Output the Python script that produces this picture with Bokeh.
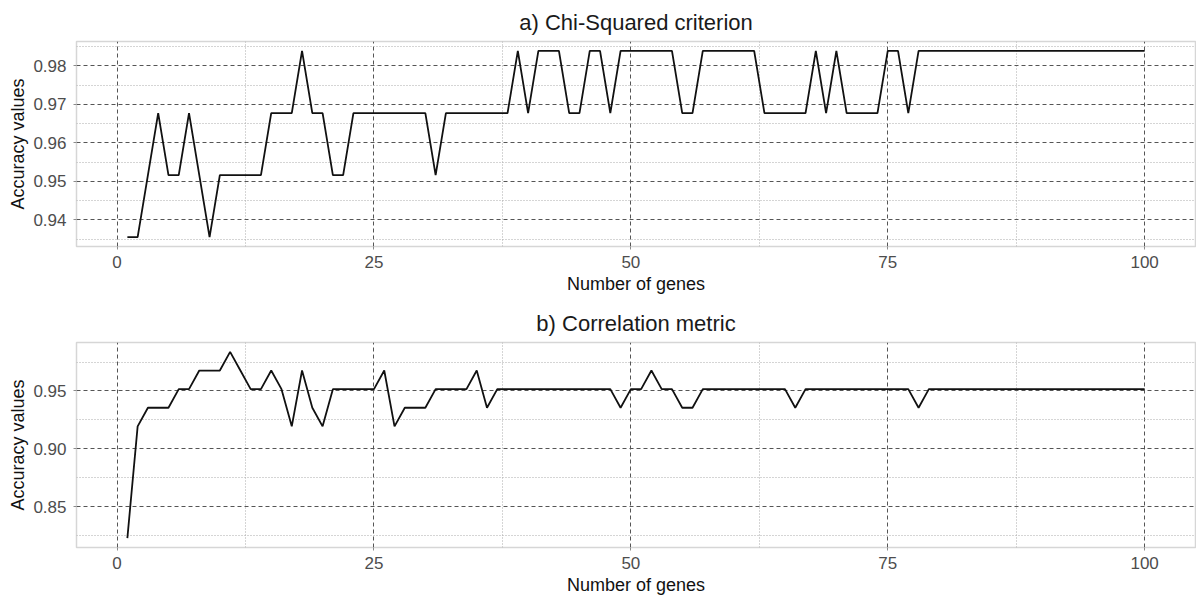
from bokeh.plotting import figure
from bokeh.layouts import column
from bokeh.models import Range1d, FixedTicker, Title, PrintfTickFormatter
from bokeh.embed import file_html
from bokeh.resources import INLINE

genes = list(range(1, 101))

chi_squared = [
    0.9355, 0.9355, 0.9516, 0.9677, 0.9516, 0.9516, 0.9677, 0.9516, 0.9355, 0.9516,
    0.9516, 0.9516, 0.9516, 0.9516, 0.9677, 0.9677, 0.9677, 0.9839, 0.9677, 0.9677,
    0.9516, 0.9516, 0.9677, 0.9677, 0.9677, 0.9677, 0.9677, 0.9677, 0.9677, 0.9677,
    0.9516, 0.9677, 0.9677, 0.9677, 0.9677, 0.9677, 0.9677, 0.9677, 0.9839, 0.9677,
    0.9839, 0.9839, 0.9839, 0.9677, 0.9677, 0.9839, 0.9839, 0.9677, 0.9839, 0.9839,
    0.9839, 0.9839, 0.9839, 0.9839, 0.9677, 0.9677, 0.9839, 0.9839, 0.9839, 0.9839,
    0.9839, 0.9839, 0.9677, 0.9677, 0.9677, 0.9677, 0.9677, 0.9839, 0.9677, 0.9839,
    0.9677, 0.9677, 0.9677, 0.9677, 0.9839, 0.9839, 0.9677, 0.9839, 0.9839, 0.9839,
    0.9839, 0.9839, 0.9839, 0.9839, 0.9839, 0.9839, 0.9839, 0.9839, 0.9839, 0.9839,
    0.9839, 0.9839, 0.9839, 0.9839, 0.9839, 0.9839, 0.9839, 0.9839, 0.9839, 0.9839,
]

correlation = [
    0.8226, 0.9194, 0.9355, 0.9355, 0.9355, 0.9516, 0.9516, 0.9677, 0.9677, 0.9677,
    0.9839, 0.9677, 0.9516, 0.9516, 0.9677, 0.9516, 0.9194, 0.9677, 0.9355, 0.9194,
    0.9516, 0.9516, 0.9516, 0.9516, 0.9516, 0.9677, 0.9194, 0.9355, 0.9355, 0.9355,
    0.9516, 0.9516, 0.9516, 0.9516, 0.9677, 0.9355, 0.9516, 0.9516, 0.9516, 0.9516,
    0.9516, 0.9516, 0.9516, 0.9516, 0.9516, 0.9516, 0.9516, 0.9516, 0.9355, 0.9516,
    0.9516, 0.9677, 0.9516, 0.9516, 0.9355, 0.9355, 0.9516, 0.9516, 0.9516, 0.9516,
    0.9516, 0.9516, 0.9516, 0.9516, 0.9516, 0.9355, 0.9516, 0.9516, 0.9516, 0.9516,
    0.9516, 0.9516, 0.9516, 0.9516, 0.9516, 0.9516, 0.9516, 0.9355, 0.9516, 0.9516,
    0.9516, 0.9516, 0.9516, 0.9516, 0.9516, 0.9516, 0.9516, 0.9516, 0.9516, 0.9516,
    0.9516, 0.9516, 0.9516, 0.9516, 0.9516, 0.9516, 0.9516, 0.9516, 0.9516, 0.9516,
]

x_major = [0, 25, 50, 75, 100]
x_minor = [12.5, 37.5, 62.5, 87.5]
top_y_major = [0.94, 0.95, 0.96, 0.97, 0.98]
top_y_minor = [0.935, 0.945, 0.955, 0.965, 0.975, 0.985]
bot_y_major = [0.85, 0.90, 0.95]
bot_y_minor = [0.825, 0.875, 0.925, 0.975]

titles = ["a) Chi-Squared criterion", "b) Correlation metric"]
x_label = "Number of genes"
y_label = "Accuracy values"

FONT = "Liberation Sans"


def pad_range(vals, frac=0.05):
    lo, hi = min(vals), max(vals)
    d = (hi - lo) * frac
    return lo - d, hi + d


def make_panel(title, yvals, ymaj, ymin, height, top_border, bottom_border, standoff):
    xlo, xhi = pad_range(genes)
    ylo, yhi = pad_range(yvals)
    p = figure(width=1196, height=height, output_backend="svg", toolbar_location=None,
               x_range=Range1d(xlo, xhi), y_range=Range1d(ylo, yhi),
               min_border_left=76, min_border_right=1,
               min_border_top=top_border, min_border_bottom=bottom_border)
    p.title = Title(text=title, align="center", text_font=FONT, text_font_size="22px",
                    text_font_style="normal", text_color="#1a1a1a", standoff=standoff)
    p.line(genes, yvals, line_color="#111111", line_width=1.8)

    p.xaxis.ticker = FixedTicker(ticks=x_major, minor_ticks=x_minor)
    p.yaxis.ticker = FixedTicker(ticks=ymaj, minor_ticks=ymin)
    p.yaxis.formatter = PrintfTickFormatter(format="%.2f")
    for ax in (p.xaxis, p.yaxis):
        ax.axis_line_color = None
        ax.major_tick_line_color = "#8c8c8c"
        ax.major_tick_out = 3
        ax.major_tick_in = 0
        ax.minor_tick_line_color = None
        ax.major_label_text_font = FONT
        ax.major_label_text_font_size = "17px"
        ax.major_label_text_color = "#4d4d4d"
        ax.axis_label_text_font = FONT
        ax.axis_label_text_font_size = "18px"
        ax.axis_label_text_font_style = "normal"
        ax.axis_label_text_color = "#111111"
    p.xaxis.axis_label = x_label
    p.yaxis.axis_label = y_label
    p.xaxis.major_label_standoff = 5
    p.xaxis.axis_label_standoff = 3
    p.yaxis.major_label_standoff = 6
    p.yaxis.axis_label_standoff = 2

    for g in (p.xgrid, p.ygrid):
        g.grid_line_color = "#555555"
        g.grid_line_dash = "4 3"
        g.grid_line_width = 1
        g.minor_grid_line_color = "#aaaaaa"
        g.minor_grid_line_dash = "1 2"
        g.minor_grid_line_width = 1

    p.outline_line_color = "#d6d6d6"
    p.outline_line_width = 1.5
    p.background_fill_color = "white"
    p.border_fill_color = "white"
    return p


p1 = make_panel(titles[0], chi_squared, top_y_major, top_y_minor, 299, 41, 53, 14)
p2 = make_panel(titles[1], correlation, bot_y_major, bot_y_minor, 300, 43, 52, 14)

layout = column(p1, p2, spacing=0)
open("out.html", "w").write(file_html(layout, INLINE))
